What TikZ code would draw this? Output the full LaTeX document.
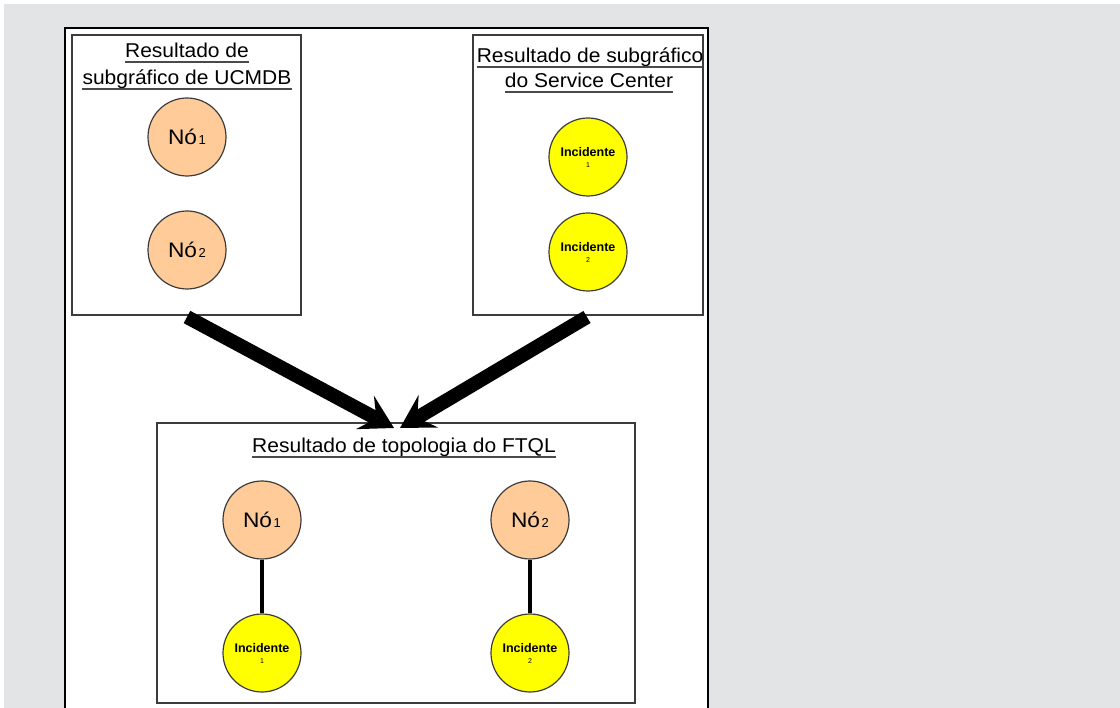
\documentclass[tikz,border=0pt]{standalone}
\usepackage{fontspec}
\setmainfont{Liberation Sans}
\newfontfamily\titlefont[FakeStretch=1.05]{Liberation Sans}
\newfontfamily\bigfont[FakeStretch=1.08]{Liberation Sans}
\usetikzlibrary{calc}

\definecolor{pagegray}{HTML}{E3E4E6}
\definecolor{framegray}{HTML}{3C3C3C}
\definecolor{rulegray}{HTML}{4A4A4A}
\definecolor{peach}{HTML}{FFCC99}
\definecolor{incyellow}{HTML}{FFFF00}

\newcommand{\nolabel}[1]{{\bigfont\fontsize{21}{24}\selectfont N\'o}\,{\fontsize{13}{13}\selectfont\raisebox{0.5pt}{#1}}}
\newcommand{\inclabel}[1]{{\bfseries\fontsize{12.5}{13}\selectfont Incidente}\\[-1pt]{\fontsize{7}{7}\selectfont #1}}

\tikzset{
  panel/.style={draw=framegray, line width=1.5pt, fill=white, inner sep=0pt, outer sep=0pt},
  titletext/.style={anchor=base, inner sep=0pt, font=\titlefont\fontsize{20}{24}\selectfont},
  titlerule/.style={draw=rulegray, line width=1.6pt},
  cinode/.style={circle, draw=framegray, line width=1.2pt, fill=peach, minimum size=78pt, inner sep=0pt},
  incnode/.style={circle, draw=framegray, line width=1.2pt, fill=incyellow, minimum size=78pt, inner sep=0pt, align=center},
  shaft/.style={line width=14pt, black},
  link/.style={line width=4pt, black},
}

% underline drawn beneath a title node
\newcommand{\ruleunder}[1]{\draw[titlerule] ([yshift=-4pt]#1.base west) -- ([yshift=-4pt]#1.base east);}

% thick arrow: shaft plus a filled notched head
\newcommand{\fatarrow}[2]{%
  \draw[shaft] (#1) -- ($(#2)!20pt!(#1)$);
  \fill[black] (#2)
    -- ($($(#2)!33pt!(#1)$)!19pt!90:(#2)$)
    -- ($(#2)!20pt!(#1)$)
    -- ($($(#2)!33pt!(#1)$)!19pt!-90:(#2)$)
    -- cycle;}

\begin{document}
\begin{tikzpicture}[x=1pt,y=-1pt]
  \useasboundingbox (0,0) rectangle (1120,708);
  \clip (0,0) rectangle (1120,708);
  \fill[white] (0,0) rectangle (1120,708);
  \fill[pagegray] (4,4) rectangle (1120,708);

  % white sheet
  \draw[black, line width=2pt, fill=white] (65,28) rectangle (708,740);

  % source panels
  \node[panel, minimum width=229pt, minimum height=280pt] (ucmdb) at (186.5,175) {};
  \node[panel, minimum width=230pt, minimum height=280pt] (sc) at (588,175) {};
  % result panel
  \node[panel, minimum width=478pt, minimum height=280pt] (ftql) at (396,563) {};

  % panel titles
  \node[titletext] (ut1) at (187,58) {Resultado de};
  \node[titletext] (ut2) at (187,85) {subgráfico de UCMDB};
  \node[titletext] (st1) at (590,63) {Resultado de subgráfico};
  \node[titletext] (st2) at (589,88) {do Service Center};
  \node[titletext] (ft1) at (404,453) {Resultado de topologia do FTQL};
  \ruleunder{ut1}
  \ruleunder{ut2}
  \ruleunder{st1}
  \ruleunder{st2}
  \ruleunder{ft1}

  % UCMDB subgraph
  \node[cinode] (u1) at (187,137) {\nolabel{1}};
  \node[cinode] (u2) at (187,250) {\nolabel{2}};

  % Service Center subgraph
  \node[incnode] (s1) at (588,157) {\inclabel{1}};
  \node[incnode] (s2) at (588,252) {\inclabel{2}};

  % FTQL topology
  \node[cinode] (f1) at (262,520) {\nolabel{1}};
  \node[cinode] (f2) at (530,520) {\nolabel{2}};
  \node[incnode] (fi1) at (262,653) {\inclabel{1}};
  \node[incnode] (fi2) at (530,653) {\inclabel{2}};
  \draw[link] (f1) -- (fi1);
  \draw[link] (f2) -- (fi2);

  % merge arrows
  \coordinate (ua) at (187,317);
  \coordinate (sa) at (587,317);
  \coordinate (fl) at (394,428);
  \coordinate (fr) at (400,428);
  \fatarrow{ua}{fl}
  \fatarrow{sa}{fr}
\end{tikzpicture}
\end{document}
